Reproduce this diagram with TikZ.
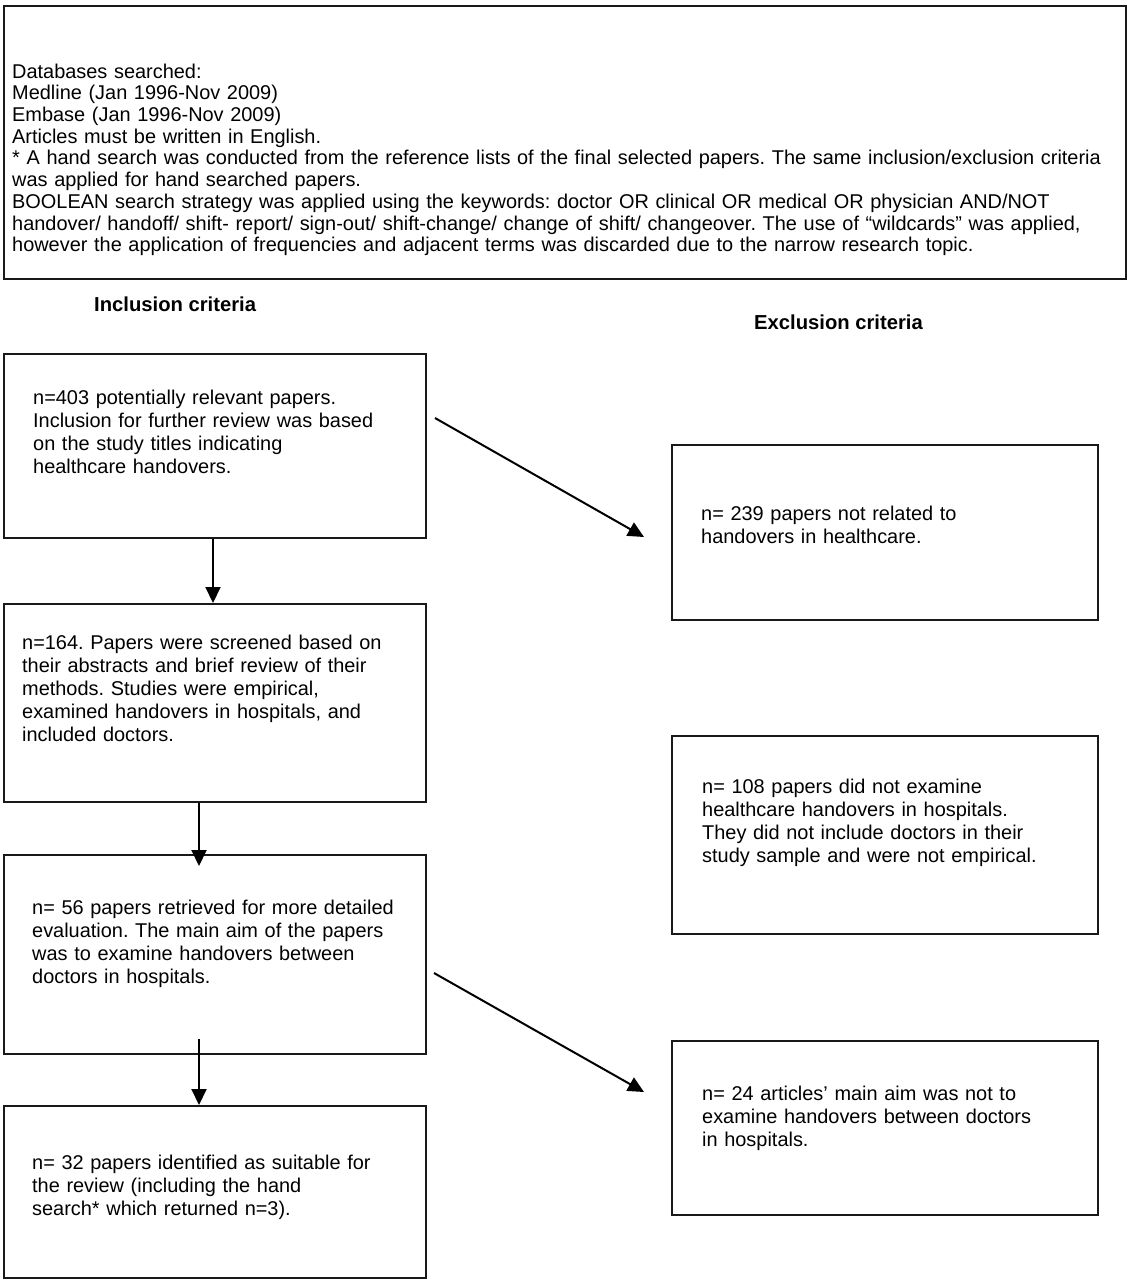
\documentclass[tikz,border=0pt]{standalone}
\usepackage{fontspec}
\setmainfont{Liberation Sans}
\usetikzlibrary{arrows.meta}
\frenchspacing
\begin{document}
\begin{tikzpicture}[x=1bp,y=-1bp,
  frame/.style={draw=black!90,line width=1.8bp,inner sep=0pt,minimum width=#1,anchor=north west},
  boxtext/.style={anchor=base west,inner sep=0pt,text width=#1,align=left,font=\fontsize{20}{23.2}\selectfont},
  toptext/.style={anchor=base west,inner sep=0pt,text width=1110bp,align=left,font=\fontsize{20}{21.8}\selectfont},
  heading/.style={anchor=base west,inner sep=0pt,font=\fontsize{20.3}{22}\selectfont\bfseries},
  arr/.style={line width=2bp,-{Triangle[length=16bp,width=15bp]}}]
\useasboundingbox (0,0) rectangle (1129,1280);
% boxes
\path (3,5) node[frame=1122bp,minimum height=273bp] (top) {};
\path (3,353) node[frame=422bp,minimum height=184bp] (b1) {};
\path (3,603) node[frame=422bp,minimum height=198bp] (b2) {};
\path (3,854) node[frame=422bp,minimum height=199bp] (b3) {};
\path (3,1105) node[frame=422bp,minimum height=172bp] (b4) {};
\path (671,444) node[frame=426bp,minimum height=175bp] (e1) {};
\path (671,735) node[frame=426bp,minimum height=198bp] (e2) {};
\path (671,1040) node[frame=426bp,minimum height=174bp] (e3) {};
% texts
\node[toptext] (toptx) at (12,78) {Databases searched:\\
Medline (Jan 1996-Nov 2009)\\
Embase (Jan 1996-Nov 2009)\\
Articles must be written in English.\\
{*} A hand search was conducted from the reference lists of the final selected papers. The same inclusion/exclusion criteria\\
was applied for hand searched papers.\\
BOOLEAN search strategy was applied using the keywords: doctor OR clinical OR medical OR physician AND/NOT\\
handover/ handoff/ shift- report/ sign-out/ shift-change/ change of shift/ changeover. The use of “wildcards” was applied,\\
however the application of frequencies and adjacent terms was discarded due to the narrow research topic.};
\node[heading] (inc) at (94,311) {Inclusion criteria};
\node[heading] (exc) at (754,329) {Exclusion criteria};
\node[boxtext=390bp] (b1t) at (33,404) {n=403 potentially relevant papers.\\
Inclusion for further review was based\\
on the study titles indicating\\
healthcare handovers.};
\node[boxtext=400bp] (b2t) at (22,649) {n=164. Papers were screened based on\\
their abstracts and brief review of their\\
methods. Studies were empirical,\\
examined handovers in hospitals, and\\
included doctors.};
\node[boxtext=390bp] (b3t) at (32,914) {n= 56 papers retrieved for more detailed\\
evaluation. The main aim of the papers\\
was to examine handovers between\\
doctors in hospitals.};
\node[boxtext=390bp] (b4t) at (32,1169) {n= 32 papers identified as suitable for\\
the review (including the hand\\
search* which returned n=3).};
\node[boxtext=390bp] (e1t) at (701,520) {n= 239 papers not related to\\
handovers in healthcare.};
\node[boxtext=390bp] (e2t) at (702,793) {n= 108 papers did not examine\\
healthcare handovers in hospitals.\\
They did not include doctors in their\\
study sample and were not empirical.};
\node[boxtext=390bp] (e3t) at (702,1100) {n= 24 articles’ main aim was not to\\
examine handovers between doctors\\
in hospitals.};
% connector anchors
\coordinate (c1) at (213,0);
\coordinate (c2) at (199,0);
\coordinate (d1s) at (435,418);
\coordinate (d1e) at (644,537);
\coordinate (d2s) at (434,973);
\coordinate (d2e) at (644,1092);
\coordinate (a2e) at (199,866);
\coordinate (a3s) at (199,1039);
% connectors
\draw[arr] (b1.south -| c1) -- (b2.north -| c1);
\draw[arr] (b2.south -| c2) -- (a2e);
\draw[arr] (a3s) -- (b4.north -| c2);
\draw[arr] (d1s) -- (d1e);
\draw[arr] (d2s) -- (d2e);
\end{tikzpicture}
\end{document}
